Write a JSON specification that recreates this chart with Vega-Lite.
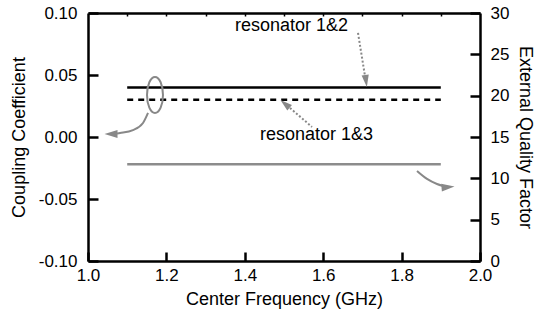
{
  "$schema": "https://vega.github.io/schema/vega-lite/v6.json",
  "autosize": "none",
  "width": 392,
  "height": 248,
  "padding": {"left": 88, "top": 13, "right": 61, "bottom": 61},
  "background": "white",
  "config": {
    "view": {"stroke": null},
    "font": "Liberation Sans",
    "axis": {
      "grid": false,
      "domainColor": "black",
      "domainWidth": 2.5,
      "tickColor": "black",
      "tickWidth": 2.5,
      "labelFont": "Liberation Sans",
      "labelFontSize": 17,
      "labelColor": "black",
      "titleFont": "Liberation Sans",
      "titleFontSize": 18,
      "titleFontWeight": "normal",
      "titleColor": "black"
    }
  },
  "datasets": {
    "coupling": [
      {"f": 1.1, "k": 0.04, "pair": "resonator 1&2"},
      {"f": 1.9, "k": 0.04, "pair": "resonator 1&2"},
      {"f": 1.1, "k": 0.03, "pair": "resonator 1&3"},
      {"f": 1.9, "k": 0.03, "pair": "resonator 1&3"}
    ],
    "qe": [
      {"f": 1.1, "q": 11.7},
      {"f": 1.9, "q": 11.7}
    ]
  },
  "layer": [
    {
      "layer": [
        {
          "data": {"name": "coupling"},
          "transform": [{"filter": "datum.pair == 'resonator 1&2'"}],
          "mark": {"type": "line", "color": "black", "strokeWidth": 2.5},
          "encoding": {
            "x": {
              "field": "f", "type": "quantitative",
              "scale": {"domain": [1, 2], "nice": false, "zero": false},
              "axis": {
                "title": "Center Frequency (GHz)",
                "values": [1.0, 1.1, 1.2, 1.3, 1.4, 1.5, 1.6, 1.7, 1.8, 1.9, 2.0],
                "labelExpr": "round(datum.value*10) % 2 == 0 ? format(datum.value, '.1f') : ''",
                "tickSize": {"condition": {"test": "round(datum.value*10) % 2 == 0", "value": -9}, "value": -3},
                "labelPadding": 15,
                "titlePadding": 7,
                "labelFlush": false
              }
            },
            "y": {
              "field": "k", "type": "quantitative",
              "scale": {"domain": [-0.1, 0.1], "nice": false, "zero": false},
              "axis": {
                "title": "Coupling Coefficient",
                "values": [-0.1, -0.05, 0, 0.05, 0.1],
                "labelExpr": "replace(format(datum.value, '.2f'), '\u2212', '-')",
                "tickSize": -10,
                "labelPadding": 21,
                "titlePadding": 10,
                "labelFlush": false
              }
            }
          }
        },
        {
          "data": {"name": "coupling"},
          "transform": [{"filter": "datum.pair == 'resonator 1&3'"}],
          "mark": {"type": "line", "color": "black", "strokeWidth": 2.5, "strokeDash": [6, 5]},
          "encoding": {
            "x": {"field": "f", "type": "quantitative"},
            "y": {"field": "k", "type": "quantitative"}
          }
        },
        {
          "data": {"values": [{"f": 1.1709, "k": 0.0339}]},
          "mark": {
            "type": "point", "filled": false, "stroke": "#888888", "strokeWidth": 2, "size": 1296, "opacity": 1,
            "shape": "M 0 -1 C 0.2453 -1 0.444 -0.5523 0.444 0 C 0.444 0.5523 0.2453 1 0 1 C -0.2453 1 -0.444 0.5523 -0.444 0 C -0.444 -0.5523 -0.2453 -1 0 -1 Z"
          },
          "encoding": {
            "x": {"field": "f", "type": "quantitative"},
            "y": {"field": "k", "type": "quantitative"}
          }
        },
        {
          "data": {"values": [
            {"f": 1.1531, "k": 0.0194},
            {"f": 1.1403, "k": 0.0113},
            {"f": 1.1148, "k": 0.0056},
            {"f": 1.0816, "k": 0.0032},
            {"f": 1.0740, "k": 0.0028}
          ]},
          "mark": {"type": "line", "color": "#888888", "strokeWidth": 2, "interpolate": "monotone"},
          "encoding": {
            "x": {"field": "f", "type": "quantitative"},
            "y": {"field": "k", "type": "quantitative"}
          }
        },
        {
          "data": {"values": [{"f": 1.0587, "k": 0.0024}]},
          "mark": {"type": "point", "filled": true, "color": "#888888", "opacity": 1, "size": 169, "angle": 90,
            "shape": "M -0.6 -1 L 0 1 L 0.6 -1 Z"},
          "encoding": {
            "x": {"field": "f", "type": "quantitative"},
            "y": {"field": "k", "type": "quantitative"}
          }
        },
        {
          "data": {"values": [
            {"f": 1.8393, "k": -0.0274},
            {"f": 1.8648, "k": -0.0338},
            {"f": 1.8903, "k": -0.0379},
            {"f": 1.9056, "k": -0.0395}
          ]},
          "mark": {"type": "line", "color": "#888888", "strokeWidth": 2, "interpolate": "monotone"},
          "encoding": {
            "x": {"field": "f", "type": "quantitative"},
            "y": {"field": "k", "type": "quantitative"}
          }
        },
        {
          "data": {"values": [{"f": 1.9184, "k": -0.0403}]},
          "mark": {"type": "point", "filled": true, "color": "#888888", "opacity": 1, "size": 169, "angle": -95,
            "shape": "M -0.6 -1 L 0 1 L 0.6 -1 Z"},
          "encoding": {
            "x": {"field": "f", "type": "quantitative"},
            "y": {"field": "k", "type": "quantitative"}
          }
        },
        {
          "data": {"values": [
            {"f": 1.6888, "k": 0.0839},
            {"f": 1.7066, "k": 0.0492}
          ]},
          "mark": {"type": "line", "color": "#888888", "strokeWidth": 2, "strokeDash": [2, 2]},
          "encoding": {
            "x": {"field": "f", "type": "quantitative"},
            "y": {"field": "k", "type": "quantitative"}
          }
        },
        {
          "data": {"values": [{"f": 1.7092, "k": 0.0452}]},
          "mark": {"type": "point", "filled": true, "color": "#888888", "opacity": 1, "size": 144, "angle": -8,
            "shape": "M -0.6 -1 L 0 1 L 0.6 -1 Z"},
          "encoding": {
            "x": {"field": "f", "type": "quantitative"},
            "y": {"field": "k", "type": "quantitative"}
          }
        },
        {
          "data": {"values": [
            {"f": 1.5714, "k": 0.0081},
            {"f": 1.5153, "k": 0.0234}
          ]},
          "mark": {"type": "line", "color": "#888888", "strokeWidth": 2, "strokeDash": [2, 2]},
          "encoding": {
            "x": {"field": "f", "type": "quantitative"},
            "y": {"field": "k", "type": "quantitative"}
          }
        },
        {
          "data": {"values": [{"f": 1.5026, "k": 0.0267}]},
          "mark": {"type": "point", "filled": true, "color": "#888888", "opacity": 1, "size": 144, "angle": 130,
            "shape": "M -0.6 -1 L 0 1 L 0.6 -1 Z"},
          "encoding": {
            "x": {"field": "f", "type": "quantitative"},
            "y": {"field": "k", "type": "quantitative"}
          }
        },
        {
          "data": {"values": [
            {"f": 1.375, "k": 0.0855, "label": "resonator 1&2"},
            {"f": 1.4388, "k": -0.0024, "label": "resonator 1&3"}
          ]},
          "mark": {"type": "text", "align": "left", "baseline": "alphabetic", "fontSize": 18, "font": "Liberation Sans", "color": "black"},
          "encoding": {
            "x": {"field": "f", "type": "quantitative"},
            "y": {"field": "k", "type": "quantitative"},
            "text": {"field": "label"}
          }
        }
      ]
    },
    {
      "data": {"name": "qe"},
      "mark": {"type": "line", "color": "#8c8c8c", "strokeWidth": 2.5},
      "encoding": {
        "x": {
          "field": "f", "type": "quantitative",
          "scale": {"domain": [1, 2], "nice": false, "zero": false},
          "axis": {
            "orient": "top", "title": null, "labels": false,
            "values": [1.1, 1.2, 1.3, 1.4, 1.5, 1.6, 1.7, 1.8, 1.9],
            "tickSize": -3, "tickWidth": 1.5
          }
        },
        "y": {
          "field": "q", "type": "quantitative",
          "scale": {"domain": [0, 30], "nice": false, "zero": false},
          "axis": {
            "orient": "right",
            "title": "External Quality Factor",
            "values": [0, 5, 10, 15, 20, 25, 30],
            "tickSize": -10,
            "labelPadding": 20,
            "titlePadding": 7,
            "labelFlush": false
          }
        }
      }
    }
  ],
  "resolve": {"scale": {"x": "independent", "y": "independent"}}
}
